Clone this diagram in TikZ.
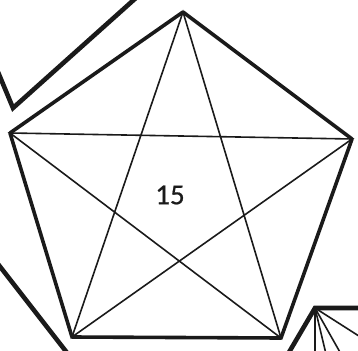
\documentclass[tikz,border=0pt]{standalone}
\usepackage{fontspec}
\setmainfont{Carlito}
\usepackage{xcolor}
\usepackage{tikz}
\usetikzlibrary{calc}
\definecolor{trnoir}{HTML}{1A1A1A}

\begin{document}
\begin{tikzpicture}[x=1pt, y=-1pt, every node/.style={font=\fontsize{29}{31}\selectfont}]
  % Cadre
  \useasboundingbox (0,0) rectangle (358,350);
  \clip (0,0) rectangle (358,350);
  % Sommets du pentagone
  \coordinate (ph) at (183,12);
  \coordinate (pg) at (10,133);
  \coordinate (pd) at (352,139);
  \coordinate (pbg) at (72,337);
  \coordinate (pbd) at (281,338);
  % Contour
  \draw[trnoir, line width=3.6pt, line join=round] (ph) -- (pd) -- (pbd) -- (pbg) -- (pg) -- cycle;
  % Etoile (diagonales)
  \draw[trnoir, line width=1.6pt] (ph) -- (pbg) -- (pd) -- (pg) -- (pbd) -- cycle;
  % Numero
  \node[trnoir] (num) at (170,195) {\addfontfeature{FakeBold=0.6}15};
  % Morceau en haut a gauche
  \draw[trnoir, line width=4.6pt, line join=miter] (-2,72) -- (13,108) -- (137,-3);
  % Morceau en bas a gauche
  \draw[trnoir, line width=4.6pt] (-2,264) -- (68,354);
  % Morceau en bas a droite
  \coordinate (vs) at (315,308);
  \draw[trnoir, line width=4.6pt, line join=miter] (288,354) -- (vs) -- (362,308);
  \foreach \bx/\by in {315/354, 326/354, 341/354, 362/338}
    \draw[trnoir, line width=1.6pt] (vs) -- (\bx,\by);
\end{tikzpicture}
\end{document}
